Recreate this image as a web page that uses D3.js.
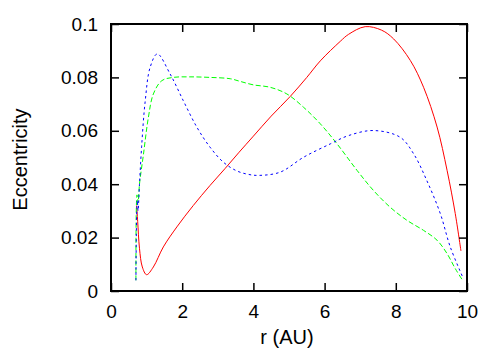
<!DOCTYPE html>
<html>
<head>
<meta charset="utf-8">
<script src="https://cdn.jsdelivr.net/npm/d3@7"></script>
<style>
  body { margin: 0; background: #fff; }
  svg { display: block; font-family: "Liberation Sans", Arial, sans-serif; }
  .axis text { font-size: 19px; fill: #000; }
  .axis line { stroke: #000; stroke-width: 1.5; }
  .axis path { display: none; }
</style>
</head>
<body>
<div id="chart"></div>
<script>
// red (solid) curve
var rRed = [0.72, 0.75, 0.80, 0.88, 1.00, 1.19, 1.47, 1.85, 2.31, 2.78, 3.20, 3.60, 4.00, 4.50, 5.03, 5.50, 5.88, 6.44, 6.67, 7.14, 7.60, 7.94, 8.41, 8.78, 9.16, 9.44, 9.67, 9.83];
var eRed = [0.032, 0.026, 0.016, 0.009, 0.0061, 0.009, 0.0165, 0.024, 0.032, 0.0395, 0.0458, 0.052, 0.058, 0.0655, 0.0728, 0.080, 0.0862, 0.0935, 0.0961, 0.099, 0.0977, 0.0944, 0.0863, 0.0763, 0.0614, 0.0452, 0.029, 0.015];

// green (dashed) curve
var rGreen = [0.70, 0.71, 0.73, 0.76, 0.80, 0.91, 1.05, 1.19, 1.43, 1.75, 2.20, 2.78, 3.35, 3.63, 4.00, 4.47, 4.94, 5.41, 5.88, 6.35, 6.91, 7.37, 7.84, 8.31, 8.78, 9.16, 9.44, 9.67, 9.89];
var eGreen = [0.004, 0.030, 0.036, 0.033, 0.040, 0.051, 0.065, 0.0738, 0.0788, 0.080, 0.0802, 0.080, 0.0795, 0.0785, 0.0772, 0.0763, 0.0738, 0.0688, 0.0626, 0.0551, 0.0452, 0.0377, 0.0314, 0.0265, 0.0227, 0.019, 0.014, 0.0084, 0.0037];

// blue (dotted) curve
var rBlue = [0.70, 0.72, 0.74, 0.76, 0.80, 0.86, 0.96, 1.10, 1.30, 1.66, 2.03, 2.41, 2.78, 3.16, 3.53, 3.85, 4.14, 4.75, 5.41, 6.16, 6.67, 7.37, 8.12, 8.50, 8.87, 9.25, 9.53, 9.90];
var eBlue = [0.004, 0.028, 0.034, 0.030, 0.040, 0.054, 0.071, 0.0838, 0.0888, 0.0813, 0.0713, 0.0614, 0.0539, 0.0482, 0.0450, 0.0437, 0.0433, 0.0445, 0.0501, 0.0551, 0.0582, 0.0601, 0.0576, 0.0514, 0.0414, 0.029, 0.0165, 0.0046];

var xTicks = [0, 2, 4, 6, 8, 10];
var yTicks = [0, 0.02, 0.04, 0.06, 0.08, 0.1];
var yTickLabels = ['0', '0.02', '0.04', '0.06', '0.08', '0.1'];

var series = [
  { r: rRed, e: eRed, color: '#ff0000', dash: null },
  { r: rGreen, e: eGreen, color: '#00ff00', dash: '5,2.5' },
  { r: rBlue, e: eBlue, color: '#0000ff', dash: '2.5,3' }
];

var W = 500, H = 350;
var margin = { top: 24, right: 33, bottom: 59, left: 111 };
var width = W - margin.left - margin.right,
    height = H - margin.top - margin.bottom;

var svg = d3.select('#chart').append('svg').attr('width', W).attr('height', H);
var g = svg.append('g').attr('transform', 'translate(' + margin.left + ',' + margin.top + ')');

var x = d3.scaleLinear().domain([0, 10]).range([0, width]);
var y = d3.scaleLinear().domain([0, 0.1]).range([height, 0]);

// curves
var line = d3.line()
  .x(function (d) { return x(d[0]); })
  .y(function (d) { return y(d[1]); })
  .curve(d3.curveCatmullRom.alpha(0.5));

series.forEach(function (s) {
  var pts = s.r.map(function (r, i) { return [r, s.e[i]]; });
  g.append('path')
    .datum(pts)
    .attr('fill', 'none')
    .attr('stroke', s.color)
    .attr('stroke-width', 1)
    .attr('stroke-dasharray', s.dash)
    .attr('d', line);
});

// axes, ticks pointing inward, mirrored on top/right
g.append('g').attr('class', 'axis')
  .attr('transform', 'translate(0,' + height + ')')
  .call(d3.axisBottom(x).tickValues(xTicks).tickSizeInner(-8).tickSizeOuter(0).tickPadding(14).tickFormat(d3.format('d')));
g.append('g').attr('class', 'axis')
  .call(d3.axisTop(x).tickValues(xTicks).tickSizeInner(-8).tickSizeOuter(0).tickFormat(''));
g.append('g').attr('class', 'axis')
  .call(d3.axisLeft(y).tickValues(yTicks).tickSizeInner(-8).tickSizeOuter(0).tickPadding(13)
    .tickFormat(function (d, i) { return yTickLabels[i]; }));
g.append('g').attr('class', 'axis')
  .attr('transform', 'translate(' + width + ',0)')
  .call(d3.axisRight(y).tickValues(yTicks).tickSizeInner(-8).tickSizeOuter(0).tickFormat(''));

// frame
g.append('rect')
  .attr('width', width).attr('height', height)
  .attr('fill', 'none').attr('stroke', '#000').attr('stroke-width', 2);

// axis titles
svg.append('text')
  .attr('x', margin.left + width / 2 - 2).attr('y', 344)
  .attr('text-anchor', 'middle').attr('font-size', 20)
  .text('r (AU)');
svg.append('text')
  .attr('transform', 'translate(27,' + (margin.top + height / 2 + 2) + ') rotate(-90)')
  .attr('text-anchor', 'middle').attr('font-size', 20)
  .text('Eccentricity');
</script>
</body>
</html>
